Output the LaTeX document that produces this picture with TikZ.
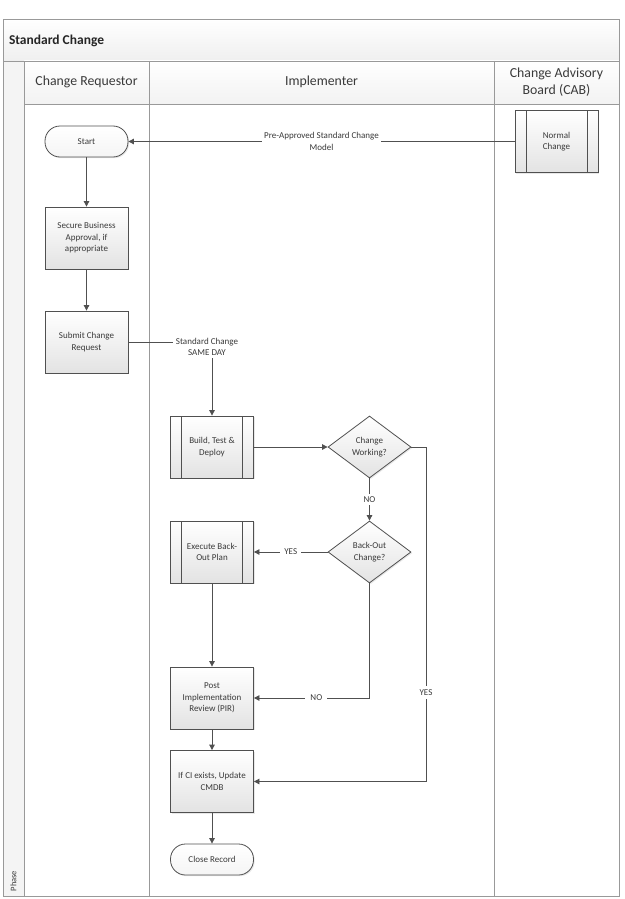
\documentclass[tikz,border=0pt]{standalone}
\usepackage{fontspec}
\setmainfont{Carlito}
\usetikzlibrary{shapes.geometric,arrows.meta,shadows}

\definecolor{linec}{HTML}{505050}
\definecolor{lanec}{HTML}{999999}
\definecolor{txt}{HTML}{3A3A3A}
\definecolor{bargray}{HTML}{EFEFEF}

\tikzset{
  shd/.style={drop shadow={opacity=0.18, shadow xshift=1.2pt, shadow yshift=-1.2pt}},
  box/.style={draw=linec, line width=0.8pt, top color=white, bottom color=black!11,
    minimum width=83pt, minimum height=62pt, inner sep=1pt, align=center,
    font=\fontsize{9}{11.5}\selectfont, text=txt, shd},
  term/.style={box, rounded corners=15pt, minimum height=31pt, top color=white, bottom color=black!4},
  proc/.style={box, path picture={\draw[linec, line width=0.8pt]
      ([xshift=11pt]path picture bounding box.north west) -- ([xshift=11pt]path picture bounding box.south west)
      ([xshift=-11pt]path picture bounding box.north east) -- ([xshift=-11pt]path picture bounding box.south east);}},
  dec/.style={diamond, draw=linec, line width=0.8pt, top color=white, bottom color=black!11,
    minimum width=83pt, minimum height=62pt, inner sep=0pt, aspect=1.34, align=center,
    font=\fontsize{9}{11.5}\selectfont, text=txt, shd},
  arr/.style={draw=linec, line width=0.8pt, -{Triangle[length=5.5pt,width=5.5pt]}},
  lbl/.style={fill=white, font=\fontsize{9}{11.5}\selectfont, text=txt, inner sep=2.5pt, align=center},
  lane/.style={draw=lanec, line width=0.9pt},
  head/.style={font=\fontsize{13.8}{16.5}\selectfont, text=txt, align=center},
}

\begin{document}
\begin{tikzpicture}[x=1pt,y=-1pt]
\useasboundingbox (0,0) rectangle (624,899);

% pool background
\fill[white] (3,19) rectangle (619,896);
\shade[top color=white, bottom color=bargray] (3,19) rectangle (619,61);
\fill[bargray!70] (3,61) rectangle (24,896);
\shade[top color=white, bottom color=bargray!80] (24,61) rectangle (619,104);
% lane lines
\draw[lane] (3,19) rectangle (619,896);
\draw[lane] (3,61) -- (619,61);
\draw[lane] (24,61) -- (24,896);
\draw[lane] (24,104) -- (619,104);
\draw[lane] (149,61) -- (149,896);
\draw[lane] (494,61) -- (494,896);

% headers
\node[anchor=west, font=\bfseries\fontsize{13.5}{16}\selectfont, text=black!85] (title) at (5.5,40.5) {Standard Change};
\node[head] (h1) at (86.5,82) {Change Requestor};
\node[head] (h2) at (321.5,82) {Implementer};
\node[head] (h3) at (556.5,82) {Change Advisory\\Board (CAB)};
\node[rotate=90, font=\fontsize{8.5}{10}\selectfont, text=txt] (phase) at (13.5,881) {Phase};

% nodes
\node[term] (start) at (86.5,141.5) {Start};
\node[box] (secure) at (86.5,238) {Secure Business\\Approval, if\\appropriate};
\node[box] (submit) at (86.5,342) {Submit Change\\Request};
\node[proc] (normal) at (556.5,141.5) {Normal\\Change};
\node[proc] (build) at (212,447) {Build, Test \&\\Deploy};
\node[dec] (d1) at (369.5,447) {Change\\Working?};
\node[dec] (d2) at (369.5,552) {Back-Out\\Change?};
\node[proc] (exec) at (212,552) {Execute Back-\\Out Plan};
\node[box] (pir) at (212,698) {Post\\Implementation\\Review (PIR)};
\node[box] (cmdb) at (212,781.5) {If CI exists, Update\\CMDB};
\node[term] (close) at (212,859.5) {Close Record};

% connectors
\draw[arr] (normal.west) -- node[lbl] (lpre) {Pre-Approved Standard Change\\Model} (start.east);
\draw[arr] (start.south) -- (secure.north);
\draw[arr] (secure.south) -- (submit.north);
\draw[arr] (submit.east) -| (build.north);
\node[lbl] (lsame) at (207,347) {Standard Change\\SAME DAY};
\draw[arr] (build.east) -- (d1.west);
\draw[arr] (d1.south) -- node[lbl] (lno1) {NO} (d2.north);
\draw[arr] (d2.west) -- node[lbl, inner xsep=4pt] (lyes1) {YES} (exec.east);
\draw[arr] (exec.south) -- (pir.north);
\draw[arr] (d2.south) |- node[lbl, pos=0.73, inner xsep=5pt] (lno2) {NO} (pir.east);
\coordinate (yc) at (426,447);
\draw[arr] (d1.east) -- (yc) |- node[lbl, pos=0.367, inner ysep=4pt] (lyes2) {YES} (cmdb.east);
\draw[arr] (pir.south) -- (cmdb.north);
\draw[arr] (cmdb.south) -- (close.north);
\end{tikzpicture}
\end{document}
